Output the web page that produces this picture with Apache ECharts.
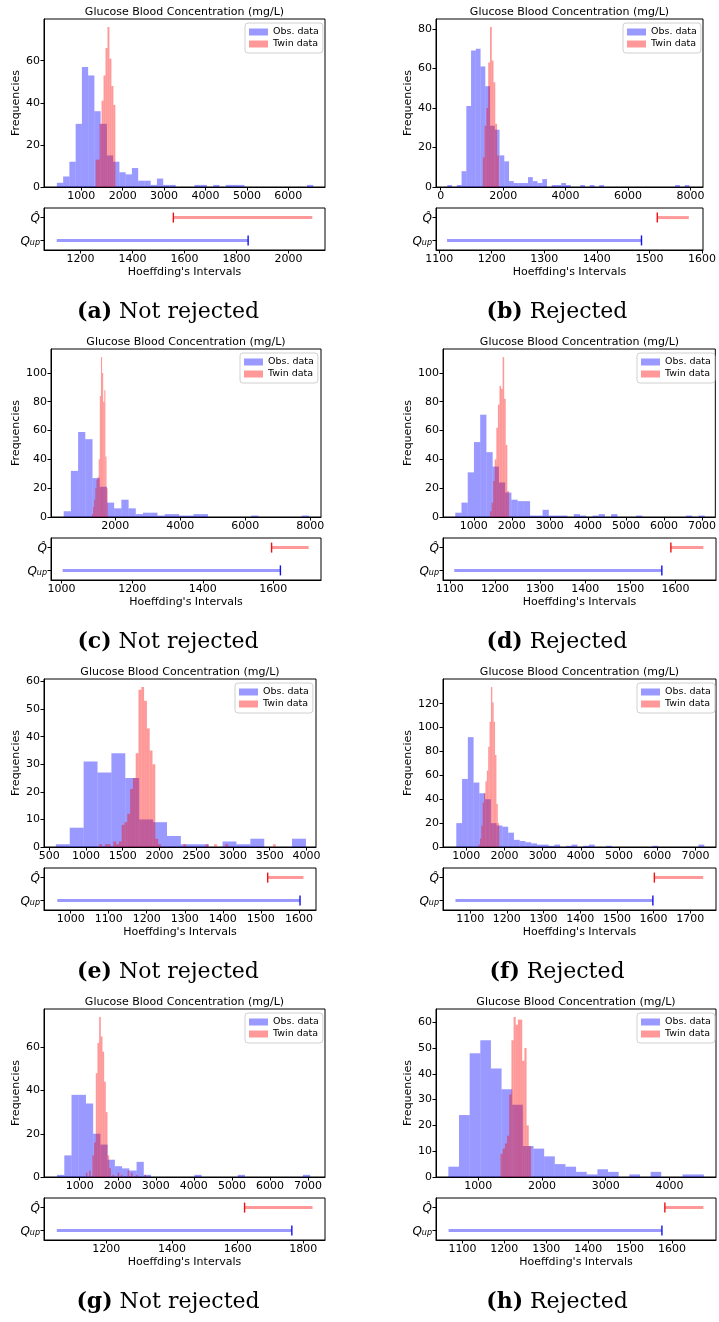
<!DOCTYPE html>
<html><head><meta charset="utf-8">
<script src="https://cdn.jsdelivr.net/npm/echarts@6/dist/echarts.min.js"></script>
<style>html,body{margin:0;padding:0;background:#fff}#c{width:719px;height:1322px}</style>
</head><body><div id="c"></div>
<script>
// ---------------- DATA ----------------
const panelLetters = ['a','b','c','d','e','f','g','h'];
const captions = ['Not rejected','Rejected','Not rejected','Rejected','Not rejected','Rejected','Not rejected','Rejected'];
const histTitle = 'Glucose Blood Concentration (mg/L)';
const obsName = 'Obs. data';
const twinName = 'Twin data';

// Observed-data histograms: first bin edge, bin width, counts
const obsStart = [411, 213, 410, 512, 591, 739, 404, 531];
const obsWidth = [151, 152, 222, 164, 189, 151, 190, 167];
const obsCountsA = [2,5,12,30,57,53,36,30,15,12,7,6,9,3,3,1,4,1,1,0,0,0,1,1,0,1,0,1,1,1,0,0,0,0,0,0,0,0,0,0,1];
const obsCountsB = [1,0,1,8,41,69,70,61,51,31,29,16,13,3,2,2,2,5,3,2,4,0,1,1,2,1,0,0,1,0,1,0,1,0,0,0,0,0,0,0,0,0,0,0,0,0,0,0,1,0,1];
const obsCountsC = [4,32,59,54,27,21,10,6,12,6,2,3,3,1,2,2,1,1,2,2,0,0,0,0,0,0,1,0,0,0,0,0,0,1];
const obsCountsD = [3,10,31,52,71,45,35,24,17,12,11,11,1,1,5,1,1,1,0,2,1,0,1,2,0,2,0,0,0,1,0,0,0,0,0,0,0,1,0,1];
const obsCountsE = [1,7,31,27,34,25,10,9,4,1,1,0,2,1,3,0,0,3];
const obsCountsF = [20,57,92,54,45,40,20,18,17,12,6,5,4,3,2,2,1,2,0,1,2,0,1,2,0,0,1,0,0,0,0,0,0,0,1,0,0,0,0,0,0,0,2];
const obsCountsG = [1,10,38,38,34,20,15,8,5,4,3,7,1,0,0,0,0,0,0,1,0,0,0,0,0,1,0,0,0,0,0,0,0,0,1];
const obsCountsH = [4,24,48,53,42,34,28,12,11,8,5,4,2,1,3,2,0,1,0,2,0,0,1,1];

// Twin-data histograms: first bin edge, bin width, counts
const twinStart = [1347, 1351, 1282, 1427, 1182, 1322, 1158, 1350];
const twinWidth = [47.6, 56.8, 34.4, 41.3, 38.1, 36, 44, 34];
const twinCountsA = [13,13,30,41,53,66,76,61,48,39];
const twinCountsB = [15,31,40,63,81,64,53,32,16];
const twinCountsC = [2,7,12,20,26,28,40,84,111,100,80,88,42,20];
const twinCountsD = [4,10,25,40,62,78,91,89,111,82,50,18];
const twinCountsE = [1,0,1,1,0,2,1,2,8,9,12,21,25,34,57,58,53,43,35,30,3,1,0,0,0,0,0,0,0,0,1,0,0,0,0,0,0,0,1,0,0,1,0,0,0,1,0,0,0,0,0,0,0,0,0,0,0,0,0,0,0,0,1];
const twinCountsF = [2,7,18,37,45,55,64,84,105,134,121,105,77,36,20];
const twinCountsG = [2,0,3,0,10,16,48,62,74,65,58,44,30,10,4,0,1,0,0,2,0,1,0,0,0,3,0,2,0,0,1,0,0,0,0,1];
const twinCountsH = [9,11,13,16,32,53,62,59,61,61,45,50,20,12];

// Hoeffding's intervals
const qHatLow  = [1557, 1515, 1595, 1590, 1518, 1602, 1621, 1583];
const qHatHigh = [2092, 1575, 1700, 1662, 1612, 1735, 1828, 1675];
const qUpLow   = [1108, 1115, 1003, 1110, 965, 1060, 1049, 1067];
const qUpHigh  = [1845, 1485, 1620, 1570, 1603, 1598, 1765, 1576];

// Tick labels
const histXTicks = [
  [1000,2000,3000,4000,5000,6000],
  [0,2000,4000,6000,8000],
  [2000,4000,6000,8000],
  [1000,2000,3000,4000,5000,6000,7000],
  [500,1000,1500,2000,2500,3000,3500,4000],
  [1000,2000,3000,4000,5000,6000,7000],
  [1000,2000,3000,4000,5000,6000,7000],
  [1000,2000,3000,4000]
];
const histYTicks = [
  [0,20,40,60],
  [0,20,40,60,80],
  [0,20,40,60,80,100],
  [0,20,40,60,80,100],
  [0,10,20,30,40,50,60],
  [0,20,40,60,80,100,120],
  [0,20,40,60],
  [0,10,20,30,40,50,60]
];
const ivXTicks = [
  [1200,1400,1600,1800,2000],
  [1100,1200,1300,1400,1500,1600],
  [1000,1200,1400,1600],
  [1100,1200,1300,1400,1500,1600],
  [1000,1100,1200,1300,1400,1500,1600],
  [1100,1200,1300,1400,1500,1600,1700],
  [1200,1400,1600,1800],
  [1100,1200,1300,1400,1500,1600]
];

const obsCounts = [obsCountsA,obsCountsB,obsCountsC,obsCountsD,obsCountsE,obsCountsF,obsCountsG,obsCountsH];
const twinCounts = [twinCountsA,twinCountsB,twinCountsC,twinCountsD,twinCountsE,twinCountsF,twinCountsG,twinCountsH];

// ---------------- LAYOUT / STYLE ----------------
const layout = [
  {hist:[44,19,325,187], iv:[44,325], xr:[100,6885], ymax:79.8, ivr:[1059,2141], leg:[245,23], cap:168, fgap:22},
  {hist:[436,19,703,187], iv:[436,703], xr:[-150,8400], ymax:85, ivr:[1094,1602], leg:[623,23], cap:557, fgap:22},
  {hist:[51,19,321,187], iv:[51,321], xr:[20,8330], ymax:116.6, ivr:[970,1735], leg:[240,23], cap:168, fgap:28},
  {hist:[443,19,716,187], iv:[443,716], xr:[190,7350], ymax:116.6, ivr:[1085,1690], leg:[637,23], cap:557, fgap:28},
  {hist:[44,19,316,187], iv:[44,316], xr:[430,4130], ymax:60.9, ivr:[930,1645], leg:[235,23], cap:168, fgap:22},
  {hist:[443,19,716,187], iv:[443,716], xr:[391,7539], ymax:140.7, ivr:[1026,1770], leg:[637,23], cap:557, fgap:28},
  {hist:[44,19,325,187], iv:[44,325], xr:[61,7447], ymax:77.7, ivr:[1010,1866], leg:[245,23], cap:168, fgap:22},
  {hist:[436,19,716,187], iv:[436,716], xr:[337,4730], ymax:65.1, ivr:[1037,1705], leg:[637,23], cap:557, fgap:22}
];
const FONT = 'DejaVu Sans';
const obsColor = 'rgba(0,0,255,0.4)';
const twinColor = 'rgba(255,0,0,0.4)';
const plain = v => String(v);

function binsToData(start, width, counts) {
  const out = [];
  counts.forEach((c, i) => { if (c > 0) out.push([start + i*width, start + (i+1)*width, c]); });
  return out;
}
function histRender(params, api) {
  const p0 = api.coord([api.value(0), 0]);
  const p1 = api.coord([api.value(1), api.value(2)]);
  return {type:'rect', shape:{x:p0[0], y:p1[1], width:p1[0]-p0[0], height:p0[1]-p1[1]},
          style:{fill: api.visual('color')}};
}
function ivRender(params, api) {
  const lo = api.value(0), hi = api.value(1), y = api.value(2);
  const a = api.coord([lo, y]), b = api.coord([hi, y]);
  const isHat = y === 1;
  const light = isHat ? 'rgba(255,0,0,0.4)' : 'rgba(0,0,255,0.4)';
  const dark = isHat ? '#ee1111' : '#1111ee';
  const tx = isHat ? a[0] : b[0];
  return {type:'group', children:[
    {type:'line', shape:{x1:a[0], y1:a[1], x2:b[0], y2:b[1]}, style:{stroke:light, lineWidth:3}},
    {type:'line', shape:{x1:tx, y1:a[1]-5, x2:tx, y2:a[1]+5}, style:{stroke:dark, lineWidth:1.4}}
  ]};
}

const grids = [], xAxes = [], yAxes = [], series = [], legends = [], graphics = [];
const axisLine = {show:true, onZero:false, lineStyle:{color:'#000', width:1}};
const tickStyle = {color:'#000', width:1};

layout.forEach((L, i) => {
  const dy = 330 * Math.floor(i/2);
  const [hx0, hy0, hx1, hy1] = L.hist;
  grids.push({left:hx0, top:hy0+dy, width:hx1-hx0, height:hy1-hy0, show:true, borderColor:'#000', borderWidth:1});
  grids.push({left:L.iv[0], top:208+dy, width:L.iv[1]-L.iv[0], height:42, show:true, borderColor:'#000', borderWidth:1});

  xAxes.push({type:'value', gridIndex:2*i, min:L.xr[0], max:L.xr[1], axisLine,
    axisTick:{show:true, length:3.5, customValues:histXTicks[i], lineStyle:tickStyle},
    axisLabel:{customValues:histXTicks[i], formatter:plain, fontSize:11, color:'#000', margin:4, fontFamily:FONT},
    splitLine:{show:false}});
  yAxes.push({type:'value', gridIndex:2*i, min:0, max:L.ymax, axisLine,
    axisTick:{show:true, length:3.5, customValues:histYTicks[i], lineStyle:tickStyle},
    axisLabel:{customValues:histYTicks[i], formatter:plain, fontSize:11, color:'#000', margin:4, fontFamily:FONT},
    splitLine:{show:false},
    name:'Frequencies', nameLocation:'middle', nameGap:L.fgap,
    nameTextStyle:{fontSize:11, color:'#000', fontFamily:FONT}});

  xAxes.push({type:'value', gridIndex:2*i+1, min:L.ivr[0], max:L.ivr[1], axisLine,
    axisTick:{show:true, length:3.5, customValues:ivXTicks[i], lineStyle:tickStyle},
    axisLabel:{customValues:ivXTicks[i], formatter:plain, fontSize:11, color:'#000', margin:4, fontFamily:FONT},
    splitLine:{show:false},
    name:"Hoeffding's Intervals", nameLocation:'middle', nameGap:17,
    nameTextStyle:{fontSize:11, color:'#000', fontFamily:FONT}});
  yAxes.push({type:'value', gridIndex:2*i+1, min:-0.42, max:1.42, axisLine,
    axisTick:{show:true, length:3.5, customValues:[0,1], lineStyle:tickStyle},
    axisLabel:{customValues:[0,1], margin:4, color:'#000',
      formatter: v => v === 1 ? '{q|Q\u0302}' : '{q|Q}{s|up}',
      rich:{q:{fontSize:12, fontStyle:'italic', fontFamily:FONT, color:'#000', verticalAlign:'bottom', lineHeight:14},
            s:{fontSize:8, fontStyle:'italic', fontFamily:FONT, color:'#000', verticalAlign:'bottom', lineHeight:8}}},
    splitLine:{show:false}});

  series.push({type:'custom', name:obsName, xAxisIndex:2*i, yAxisIndex:2*i, renderItem:histRender,
    itemStyle:{color:obsColor}, encode:{x:[0,1], y:2}, silent:true,
    data:binsToData(obsStart[i], obsWidth[i], obsCounts[i])});
  series.push({type:'custom', name:twinName, xAxisIndex:2*i, yAxisIndex:2*i, renderItem:histRender,
    itemStyle:{color:twinColor}, encode:{x:[0,1], y:2}, silent:true,
    data:binsToData(twinStart[i], twinWidth[i], twinCounts[i])});
  series.push({type:'custom', xAxisIndex:2*i+1, yAxisIndex:2*i+1, renderItem:ivRender, silent:true,
    encode:{x:[0,1], y:2},
    data:[[qUpLow[i], qUpHigh[i], 0], [qHatLow[i], qHatHigh[i], 1]]});

  legends.push({data:[obsName, twinName], left:L.leg[0], top:L.leg[1]+dy, orient:'vertical',
    icon:'rect', itemWidth:19, itemHeight:7, itemGap:2, padding:[4,4,4,4], selectedMode:false,
    backgroundColor:'rgba(255,255,255,0.8)', borderColor:'#d0d0d0', borderWidth:1, borderRadius:3,
    textStyle:{fontSize:9.5, color:'#000', fontFamily:FONT}});

  graphics.push({type:'text', x:(hx0+hx1)/2, y:12+dy,
    style:{text:histTitle, align:'center', verticalAlign:'middle', fontSize:11, fontFamily:FONT, fill:'#000'}});
  graphics.push({type:'text', x:L.cap, y:312+dy,
    style:{text:'{b|(' + panelLetters[i] + ')} ' + captions[i], align:'center', verticalAlign:'middle',
      fontSize:22, fontFamily:'DejaVu Serif', fill:'#000',
      rich:{b:{fontWeight:'bold', fontSize:22, fontFamily:'DejaVu Serif', fill:'#000'}}}});
});

const chart = echarts.init(document.getElementById('c'), null, {renderer:'canvas'});
chart.setOption({animation:false, backgroundColor:'#fff', grid:grids, xAxis:xAxes, yAxis:yAxes,
  series, legend:legends, graphic:graphics});
</script></body></html>
